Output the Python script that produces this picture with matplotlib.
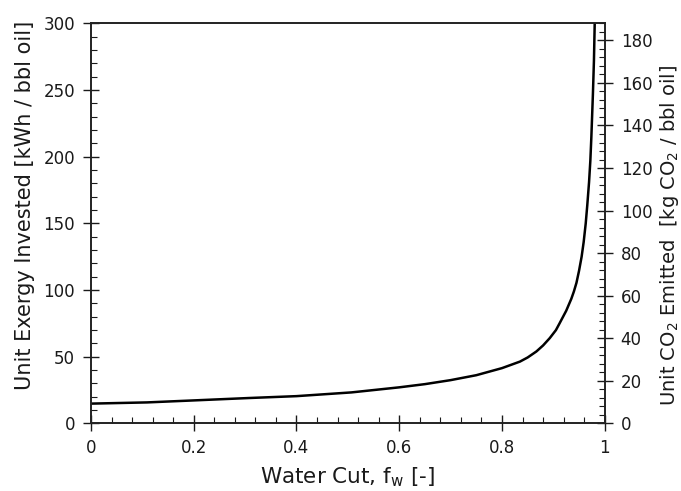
import matplotlib
matplotlib.use("Agg")
import matplotlib.pyplot as plt
from matplotlib.ticker import MultipleLocator

# Data
water_cut = [0.0, 0.109, 0.2, 0.308, 0.4, 0.507, 0.6, 0.65, 0.7, 0.75,
             0.8, 0.835, 0.85, 0.867, 0.88, 0.893, 0.905, 0.912, 0.925,
             0.935, 0.94, 0.945, 0.95, 0.955, 0.959, 0.963, 0.966, 0.9695,
             0.972, 0.974, 0.977, 0.979, 0.9805, 0.982]
exergy = [14.9, 15.8, 17.3, 19.1, 20.5, 23.3, 27.1, 29.5, 32.5, 36.2,
          41.5, 46.4, 49.5, 54.0, 58.5, 64.0, 70.0, 75.0, 84.5,
          93.5, 99.0, 105.5, 114.5, 125.0, 136.0, 150.0, 163.5, 181.0,
          197.0, 215.0, 247.0, 272.0, 300.0, 320.0]

x_ticks = [0, 0.2, 0.4, 0.6, 0.8, 1.0]
x_tick_labels = ["0", "0.2", "0.4", "0.6", "0.8", "1"]
left_ticks = [0, 50, 100, 150, 200, 250, 300]
right_ticks = [0, 20, 40, 60, 80, 100, 120, 140, 160, 180]
left_max = 300
right_max = 188

plt.rcParams['font.family'] = ['DejaVu Sans']
plt.rcParams['mathtext.fontset'] = 'dejavusans'

text_color = '#1a1a1a'

fig = plt.figure(figsize=(6.81, 4.91), dpi=100)
ax = fig.add_axes([0.1336, 0.1375, 0.7544, 0.815])
ax.plot(water_cut, exergy, color='black', lw=1.8, solid_capstyle='butt',
        solid_joinstyle='round')
ax.set_xlim(0, 1)
ax.set_ylim(0, left_max)

ax.set_xticks(x_ticks)
ax.set_xticklabels(x_tick_labels)
ax.set_yticks(left_ticks)
ax.xaxis.set_minor_locator(MultipleLocator(0.04))
ax.yaxis.set_minor_locator(MultipleLocator(10))

ax.tick_params(which='major', direction='inout', length=11, width=1.0,
               labelsize=12, colors=text_color, pad=6)
ax.tick_params(which='minor', direction='in', length=4, width=0.8, colors=text_color)
ax.tick_params(top=False, right=False, which='both')

for s in ax.spines.values():
    s.set_linewidth(1.2)
    s.set_color('#222222')

ax2 = ax.twinx()
ax2.set_ylim(0, right_max)
ax2.set_yticks(right_ticks)
ax2.yaxis.set_minor_locator(MultipleLocator(4))
ax2.tick_params(which='major', direction='inout', length=11, width=1.0,
                labelsize=12, colors=text_color, pad=6)
ax2.tick_params(which='minor', direction='in', length=4, width=0.8, colors=text_color)
for s in ax2.spines.values():
    s.set_linewidth(1.2)
    s.set_color('#222222')

ax.set_xlabel(r"Water Cut, f$_\mathregular{w}$ [-]", fontsize=15.5, color=text_color)
ax.xaxis.set_label_coords(0.5, -0.105)
ax.set_ylabel("Unit Exergy Invested [kWh / bbl oil]", fontsize=15, color=text_color)
ax.yaxis.set_label_coords(-0.108, 0.545)
ax2.set_ylabel(r"Unit CO$_\mathregular{2}$ Emitted  [kg CO$_\mathregular{2}$ / bbl oil]",
               fontsize=14, color=text_color, rotation=90)
ax2.yaxis.set_label_coords(1.103, 0.47)

fig.savefig("out.png", dpi=100)
